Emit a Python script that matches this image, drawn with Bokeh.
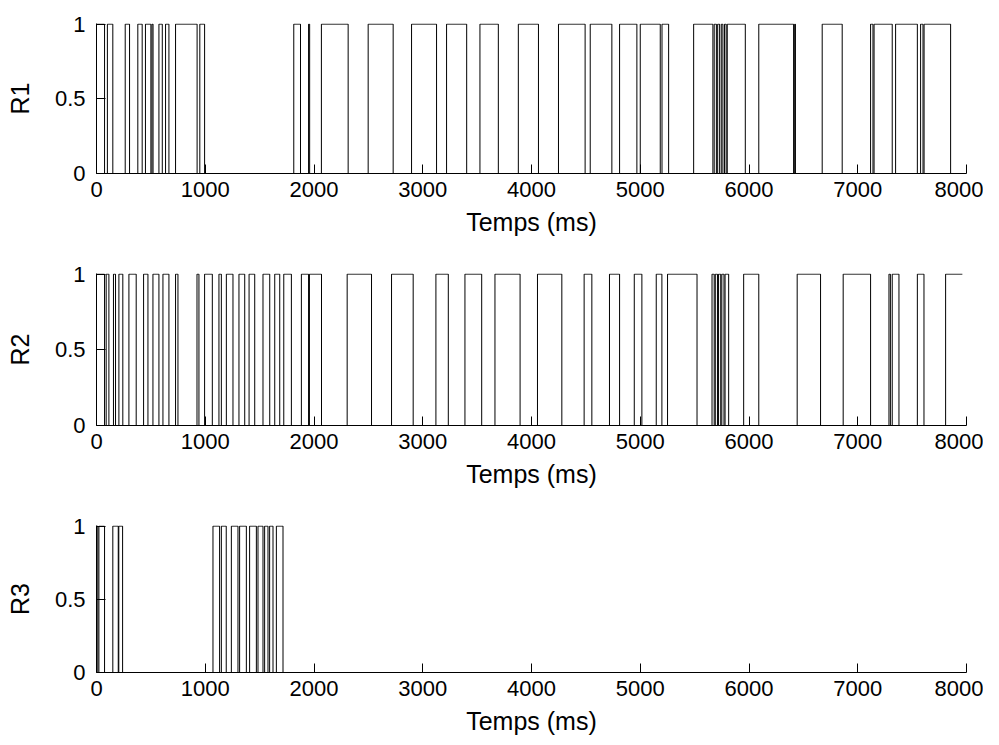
from bokeh.plotting import figure
from bokeh.layouts import column
from bokeh.models import Range1d, FixedTicker
from bokeh.embed import file_html
from bokeh.resources import INLINE

# ---- data: on-intervals (ms) of each binary signal ----
r1_on  = [0, 100, 264, 380, 450, 510, 574, 635, 727, 950, 1814, 1950, 2068, 2498, 2897, 3219, 3526,
          3879, 4248, 4540, 4810, 5000, 5200, 5491, 5680, 5712, 5745, 5775, 5800, 6090, 6420,
          6673, 7118, 7150, 7348, 7578, 7610]
r1_off = [74, 150, 304, 420, 500, 520, 605, 666, 925, 994, 1876, 1960, 2314, 2728, 3127, 3404, 3695,
          4064, 4493, 4739, 4969, 5184, 5261, 5668, 5700, 5730, 5760, 5790, 5966, 6410, 6427,
          6857, 7140, 7317, 7548, 7600, 7854]
r1_end = 7962

r2_on  = [0, 89, 156, 206, 298, 433, 519, 611, 727, 924, 994, 1126, 1194, 1310, 1403, 1531, 1639,
          1722, 1884, 1958, 2305, 2713, 3121, 3388, 3664, 4055, 4484, 4717, 4945, 5147, 5251,
          5660, 5690, 5720, 5750, 5780, 5951, 6443, 6866, 7287, 7317, 7548, 7808]
r2_off = [74, 114, 175, 242, 365, 473, 574, 666, 749, 942, 1065, 1148, 1255, 1363, 1455, 1593, 1685,
          1792, 1950, 2069, 2529, 2912, 3235, 3542, 3895, 4279, 4555, 4810, 5015, 5199, 5522,
          5680, 5710, 5740, 5770, 5813, 6090, 6658, 7118, 7300, 7379, 7609, 7962]
r2_end = 7962

r3_on  = [0, 22, 150, 205, 1071, 1148, 1240, 1316, 1408, 1485, 1546, 1592, 1654]
r3_off = [12, 74, 200, 240, 1132, 1193, 1301, 1378, 1470, 1531, 1577, 1623, 1715]
r3_end = 7962

x_ticks = [0, 1000, 2000, 3000, 4000, 5000, 6000, 7000, 8000]
y_ticks = [0, 0.5, 1]
labels = ["R1", "R2", "R3"]
x_label = "Temps (ms)"

FONT = "Liberation Sans"


def stairs(on, off, end):
    t, v = [0.0], [0.0]
    for a, b in zip(on, off):
        t += [a, a, b, b]
        v += [v[-1], 1, 1, 0]
    if off[-1] >= end:
        v[-1] = 1
        t[-1] = end
    else:
        t.append(end)
        v.append(0)
    return t, v


def make(on, off, end, ylab, h, top, bottom):
    p = figure(width=983, height=h, output_backend="svg", toolbar_location=None,
               x_range=Range1d(0, 8000), y_range=Range1d(0, 1.004),
               min_border_left=96, min_border_right=17, min_border_top=top,
               min_border_bottom=bottom)
    t, v = stairs(on, off, end)
    p.line(t, v, line_color="black", line_width=1)
    p.grid.visible = False
    p.outline_line_color = None
    p.background_fill_color = "white"
    p.border_fill_color = "white"
    for ax in (p.xaxis[0], p.yaxis[0]):
        ax.axis_line_color = "black"
        ax.major_tick_line_color = "black"
        ax.major_tick_in = 9
        ax.major_tick_out = 0
        ax.minor_tick_line_color = None
        ax.major_label_text_font = FONT
        ax.major_label_text_font_size = "22px"
        ax.major_label_text_color = "black"
        ax.axis_label_text_font = FONT
        ax.axis_label_text_font_size = "25px"
        ax.axis_label_text_font_style = "normal"
        ax.axis_label_text_color = "black"
    p.xaxis.ticker = FixedTicker(ticks=x_ticks)
    p.yaxis.ticker = FixedTicker(ticks=y_ticks)
    p.xaxis.axis_label = x_label
    p.yaxis.axis_label = ylab
    p.xaxis.major_label_standoff = 8
    p.xaxis.axis_label_standoff = 8
    p.yaxis.major_label_standoff = 11
    p.yaxis.axis_label_standoff = 18
    return p


p1 = make(r1_on, r1_off, r1_end, labels[0], 250, 23, 77)
p2 = make(r2_on, r2_off, r2_end, labels[1], 250, 23, 75)
p3 = make(r3_on, r3_off, r3_end, labels[2], 237, 25, 61)

layout = column(p1, p2, p3, spacing=0)
open("out.html", "w").write(file_html(layout, INLINE))
